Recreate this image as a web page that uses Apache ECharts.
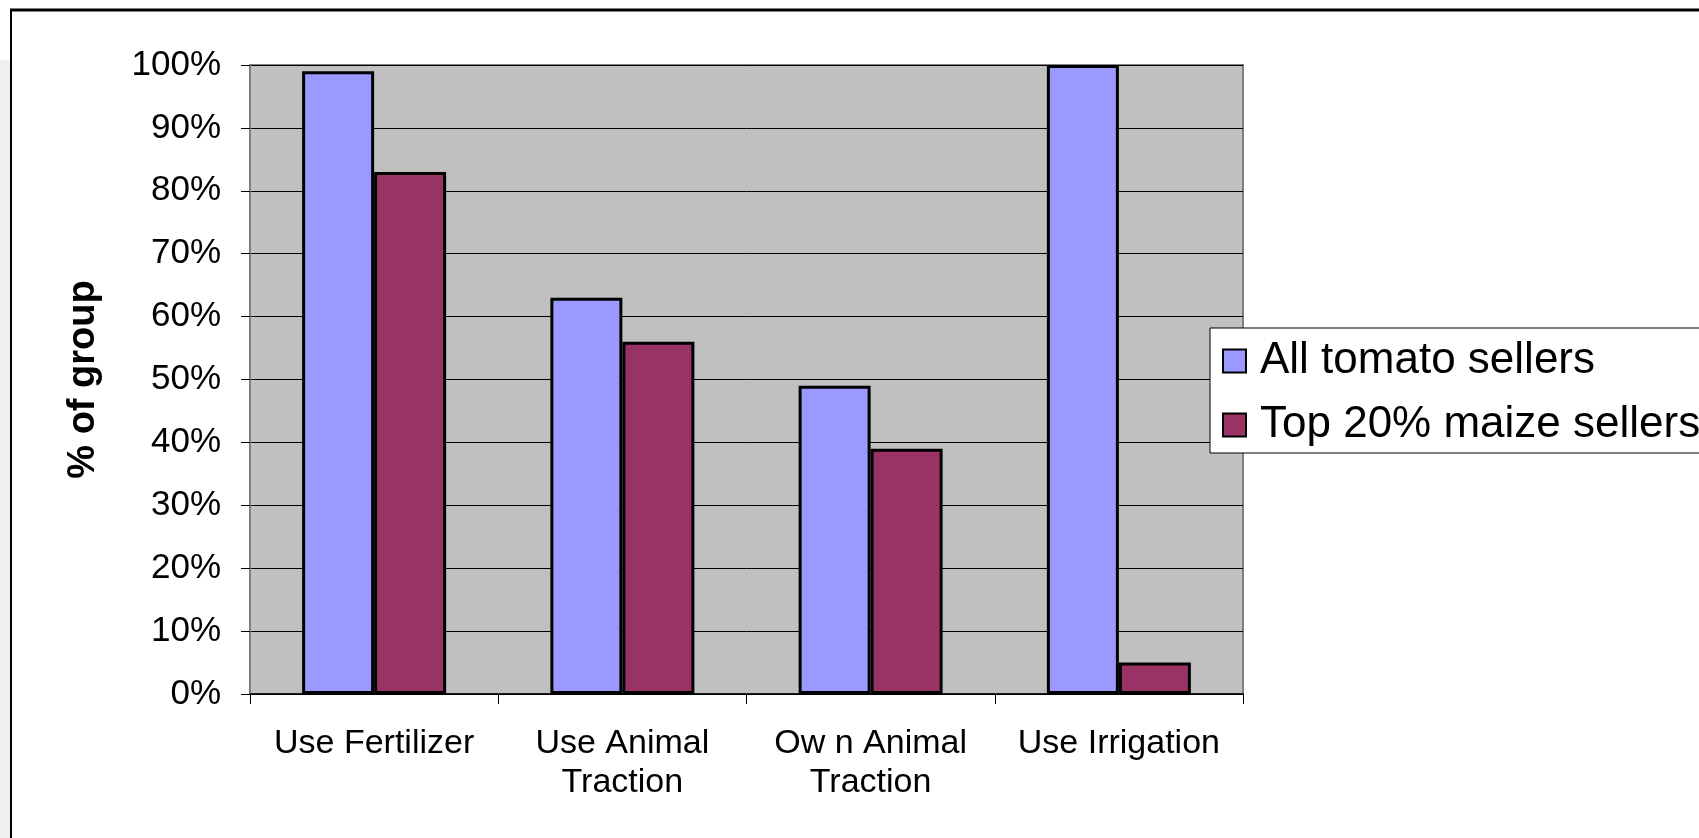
<!DOCTYPE html>
<html>
<head>
<meta charset="utf-8">
<script src="https://cdn.jsdelivr.net/npm/echarts@6/dist/echarts.min.js"></script>
<style>
html,body{margin:0;padding:0;background:#fff;}
#c{width:1699px;height:838px;}
</style>
</head>
<body>
<div id="c"></div>
<script>
const categories = ['Use Fertilizer', 'Use Animal\nTraction', 'Ow n Animal\nTraction', 'Use Irrigation'];
const allTomatoSellers = [99, 63, 49, 100];
const topMaizeSellers = [83, 56, 39, 5];
const seriesNames = ['All tomato sellers', 'Top 20% maize sellers'];
const yTicks = [0, 10, 20, 30, 40, 50, 60, 70, 80, 90, 100];

const chart = echarts.init(document.getElementById('c'), null, {renderer: 'canvas'});
const font = '"Liberation Sans", Arial, sans-serif';
chart.setOption({
  backgroundColor: '#ffffff',
  animation: false,
  textStyle: {fontFamily: font},
  graphic: [
    {type: 'rect', shape: {x: 0, y: 60, width: 10, height: 778}, style: {fill: '#efefef'}, z: 0},
    {type: 'line', shape: {x1: 10, y1: 10, x2: 1699, y2: 10}, style: {stroke: '#000', lineWidth: 3}, z: 10},
    {type: 'line', shape: {x1: 11, y1: 10, x2: 11, y2: 838}, style: {stroke: '#000', lineWidth: 2}, z: 10}
  ],
  grid: {
    left: 250, right: 456, top: 65, bottom: 144,
    show: true, backgroundColor: '#C0C0C0', borderColor: '#808080', borderWidth: 2
  },
  legend: {
    orient: 'vertical',
    left: 1210, top: 328,
    backgroundColor: '#ffffff',
    borderColor: '#000000', borderWidth: 1,
    padding: [11, 40, 6, 12],
    itemGap: 20,
    itemWidth: 23, itemHeight: 23,
    icon: 'rect',
    textStyle: {fontSize: 44, color: '#000', fontFamily: font, padding: [0, 0, 0, 9]},
    data: seriesNames
  },
  xAxis: {
    type: 'category',
    data: categories,
    axisLine: {show: true, lineStyle: {color: '#000', width: 1.5}},
    axisTick: {show: true, alignWithLabel: false, length: 10, lineStyle: {color: '#000'}},
    axisLabel: {fontSize: 34, color: '#000', lineHeight: 39, margin: 30, fontFamily: font, interval: 0}
  },
  yAxis: {
    type: 'value',
    min: 0, max: 100, interval: 10,
    name: '% of group',
    nameLocation: 'middle',
    nameGap: 147,
    nameTextStyle: {fontSize: 38, fontWeight: 'bold', color: '#000', fontFamily: font},
    axisLine: {show: true, lineStyle: {color: '#808080', width: 2}},
    axisTick: {show: true, length: 9, lineStyle: {color: '#000'}},
    axisLabel: {fontSize: 35, color: '#000', margin: 29, fontFamily: font,
      formatter: v => v + '%'},
    splitLine: {show: true, lineStyle: {color: '#000', width: 1}}
  },
  series: [
    {
      name: seriesNames[0], type: 'bar', data: allTomatoSellers,
      barWidth: 72, barGap: '0%',
      itemStyle: {color: '#9999FF', borderColor: '#000', borderWidth: 3}
    },
    {
      name: seriesNames[1], type: 'bar', data: topMaizeSellers,
      barWidth: 72, barGap: '0%',
      itemStyle: {color: '#993366', borderColor: '#000', borderWidth: 3}
    }
  ]
});
</script>
</body>
</html>
